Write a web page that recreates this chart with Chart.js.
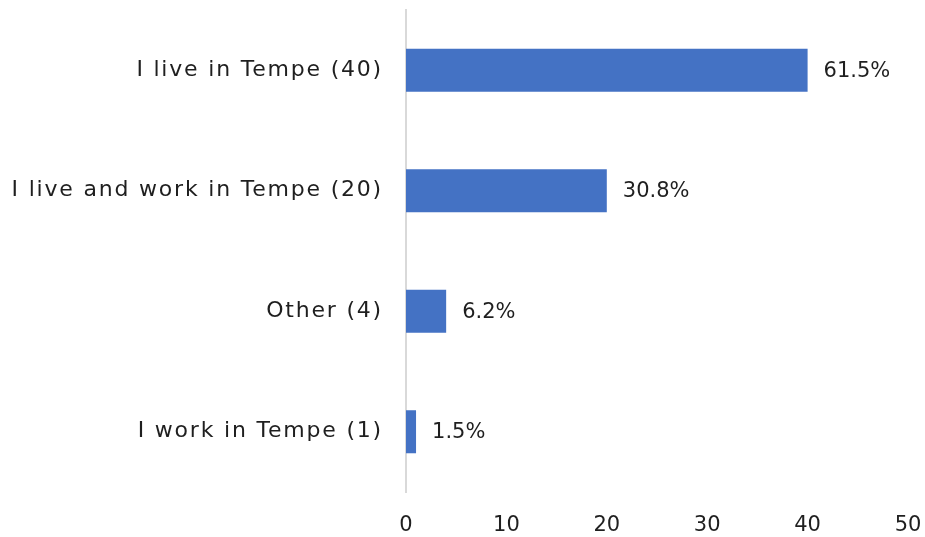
<!DOCTYPE html>
<html><head><meta charset="utf-8">
<script src="https://cdn.jsdelivr.net/npm/chart.js@4.4.1/dist/chart.umd.min.js"></script>
<style>html,body{margin:0;padding:0;background:#fff}#wrap{width:925px;height:537px}</style>
</head><body><div id="wrap"><canvas id="c"></canvas></div>
<script>
const categories = ["I live in Tempe (40)", "I live and work in Tempe (20)", "Other (4)", "I work in Tempe (1)"];
const counts = [40, 20, 4, 1];
const percentLabels = ["61.5%", "30.8%", "6.2%", "1.5%"];
const xTicks = [0, 10, 20, 30, 40, 50];

const FONT = "'DejaVu Sans', sans-serif";
const TEXT = "#1f1f1f";

const valueLabels = {
  id: 'valueLabels',
  afterDatasetsDraw(chart) {
    const ctx = chart.ctx;
    const meta = chart.getDatasetMeta(0);
    ctx.save();
    ctx.font = "21px " + FONT;
    ctx.fillStyle = TEXT;
    ctx.textBaseline = 'middle';
    ctx.textAlign = 'left';
    meta.data.forEach((bar, i) => {
      ctx.fillText(percentLabels[i], bar.x + 16, bar.y + 1);
    });
    ctx.restore();
  }
};

new Chart(document.getElementById('c'), {
  type: 'bar',
  data: {
    labels: categories,
    datasets: [{ data: counts, backgroundColor: '#4472C4', borderWidth: 0, categoryPercentage: 1, barPercentage: 0.357 }]
  },
  options: {
    indexAxis: 'y',
    responsive: true,
    maintainAspectRatio: false,
    animation: false,
    layout: { padding: { top: 10, right: 17, bottom: 0, left: 0 } },
    plugins: { legend: { display: false }, tooltip: { enabled: false } },
    scales: {
      x: {
        min: 0, max: 50,
        afterBuildTicks: s => { s.ticks = xTicks.map(v => ({ value: v })); },
        afterFit: s => { s.height = 45; s.paddingLeft = 0; s.paddingRight = 0; },
        grid: { display: false },
        border: { display: false },
        ticks: { color: TEXT, font: { family: FONT, size: 21 }, padding: 13 }
      },
      y: {
        afterFit: s => {
          s.width = 406; s.paddingTop = 0; s.paddingBottom = 0;
          if (!s._spaced) {
            const orig = s.drawLabels.bind(s);
            s.drawLabels = function (area) {
              this.ctx.save();
              this.ctx.letterSpacing = '1.8px';
              orig(area);
              this.ctx.restore();
            };
            s._spaced = true;
          }
        },
        grid: { display: false },
        border: { display: true, color: '#d9d9d9', width: 2 },
        ticks: { color: TEXT, font: { family: FONT, size: 22 }, padding: 15 }
      }
    }
  },
  plugins: [valueLabels]
});
</script></body></html>
